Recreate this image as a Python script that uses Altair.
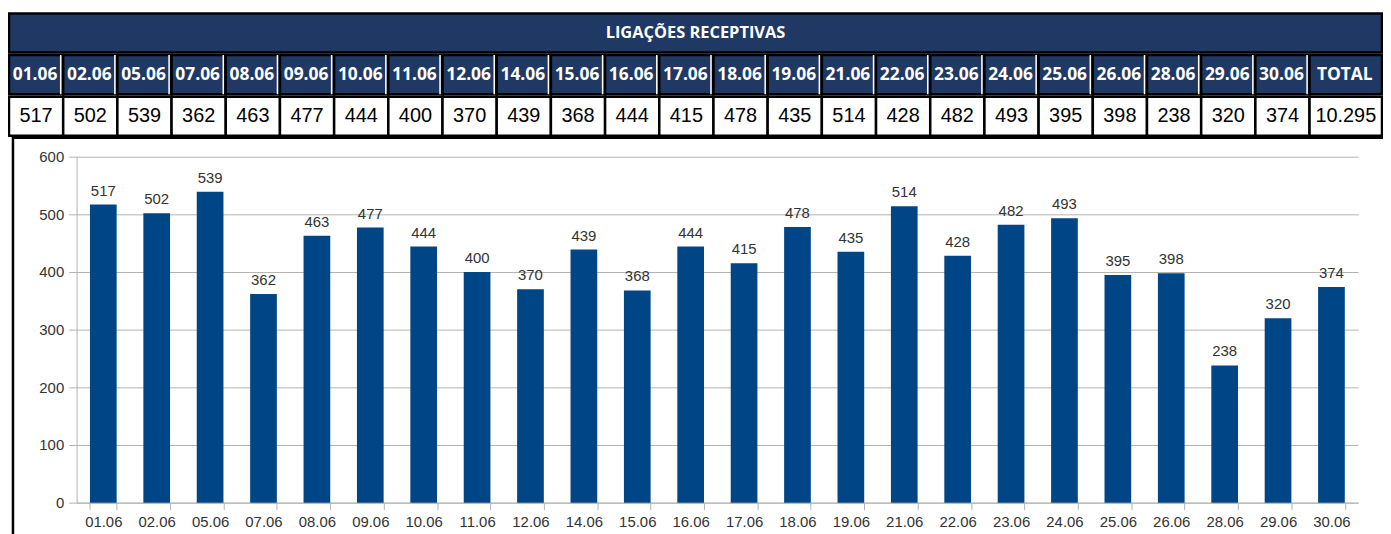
import altair as alt
import pandas as pd

# ---------------- data ----------------
title = "LIGAÇÕES RECEPTIVAS"
dates = ["01.06", "02.06", "05.06", "07.06", "08.06", "09.06", "10.06", "11.06",
         "12.06", "14.06", "15.06", "16.06", "17.06", "18.06", "19.06", "21.06",
         "22.06", "23.06", "24.06", "25.06", "26.06", "28.06", "29.06", "30.06"]
calls = [517, 502, 539, 362, 463, 477, 444, 400, 370, 439, 368, 444, 415, 478,
         435, 514, 428, 482, 493, 395, 398, 238, 320, 374]
total_label = "TOTAL"
y_ticks = [0, 100, 200, 300, 400, 500, 600]

# ---------------- style ----------------
NAVY = "#203864"
BAR = "#004586"
GRID = "#b3b3b3"
TXT = "#333333"
W, H = 1289, 348

bars_df = pd.DataFrame({"date": dates, "calls": calls})

total = sum(calls)
total_text = f"{total:,}".replace(",", ".")
head = dates + [total_label]
vals = [str(v) for v in calls] + [total_text]
spans = [1.0] * len(dates) + [1.337]
x0, acc = [], 0.0
for s in spans:
    x0.append(acc)
    acc += s
x1 = [a + s for a, s in zip(x0, spans)]
xm = [(a + b) / 2 for a, b in zip(x0, x1)]
n = len(head)
cells = pd.DataFrame({
    "x0": x0 * 2, "x1": x1 * 2, "xm": xm * 2,
    "row": ["d"] * n + ["v"] * n,
    "label": head + vals,
})
date_cells = cells[cells.row == "d"]
val_cells = cells[cells.row == "v"]
header_df = pd.DataFrame({"x0": [0.0], "x1": [acc], "xm": [acc / 2], "row": ["h"], "label": [title]})

# ---------------- table ----------------
tx = alt.Scale(domain=[0, acc], range=[-68, 1313], nice=False, zero=False)
ty = alt.Scale(type="band", domain=["h", "d", "v"], range=[-144, -21], paddingInner=0.06, paddingOuter=0)

def rect_layer(df, fill, stroke="black", sw=2.5):
    return alt.Chart(df).mark_rect(fill=fill, stroke=stroke, strokeWidth=sw).encode(
        x=alt.X("x0:Q", scale=tx, axis=None),
        x2="x1:Q",
        y=alt.Y("row:N", scale=ty, axis=None),
    )

hdr_rect = rect_layer(header_df, NAVY)
date_rect = rect_layer(date_cells, NAVY)
val_rect = rect_layer(val_cells, "white")
seps = alt.Chart(date_cells[date_cells.label != total_label]).mark_rect(
    fill=None, stroke="white", strokeWidth=1.5, xOffset=-2.5, x2Offset=-2.5
).encode(
    x=alt.X("x1:Q", scale=tx, axis=None),
    x2="x1:Q",
    y=alt.Y("row:N", scale=ty, axis=None),
)

def text_layer(df, **kw):
    return alt.Chart(df).mark_text(align="center", baseline="middle", **kw).encode(
        x=alt.X("xm:Q", scale=tx, axis=None),
        y=alt.Y("row:N", scale=ty, axis=None),
        text="label:N",
    )

hdr_text = text_layer(header_df, font="Open Sans", fontWeight="bold", fontSize=16.5, color="white")
date_text = text_layer(date_cells, font="Open Sans", fontWeight="bold", fontSize=17.5, color="white", dx=-1)
val_text = text_layer(val_cells, font="Liberation Sans", fontSize=20, color="black")

table = alt.layer(hdr_rect, date_rect, val_rect, seps, hdr_text, date_text, val_text)

# ---------------- bar chart ----------------
xs = alt.Scale(domain=dates, paddingInner=0.5, paddingOuter=0.25)
ys = alt.Scale(domain=[0, 600], nice=False)

base = alt.Chart(bars_df).encode(
    x=alt.X("date:N", sort=dates, scale=xs, title=None,
            axis=alt.Axis(labelAngle=0, tickBand="extent", tickSize=7, labelPadding=5,
                          domainColor=GRID, tickColor=GRID, grid=False,
                          labelFont="Liberation Sans", labelFontSize=15, labelColor=TXT)),
    y=alt.Y("calls:Q", scale=ys, title=None,
            axis=alt.Axis(values=y_ticks, tickSize=8, labelPadding=5,
                          domainColor=GRID, tickColor=GRID, gridColor=GRID,
                          labelFont="Liberation Sans", labelFontSize=15, labelColor=TXT)),
)
bars = base.mark_bar(color=BAR)
labels = base.mark_text(
    dy=-9, baseline="alphabetic", font="Liberation Sans", fontSize=15, color=TXT
).encode(text="calls:Q")
bar_group = alt.layer(bars, labels)

# ---------------- frame ----------------
frame = alt.Chart(header_df).mark_rect(fill=None, stroke="black", strokeWidth=2.5).encode(
    x=alt.value(-64), x2=alt.value(W + 60), y=alt.value(-19), y2=alt.value(H + 40))

chart = alt.layer(bar_group, table, frame).resolve_scale(
    x="independent", y="independent"
).properties(
    width=W, height=H,
    padding={"left": 69, "top": 148, "right": 25, "bottom": 30},
    autosize=alt.AutoSizeParams(type="none"),
).configure_view(stroke=None)

chart.save("out.html", embed_options={"renderer": "svg", "actions": False})
